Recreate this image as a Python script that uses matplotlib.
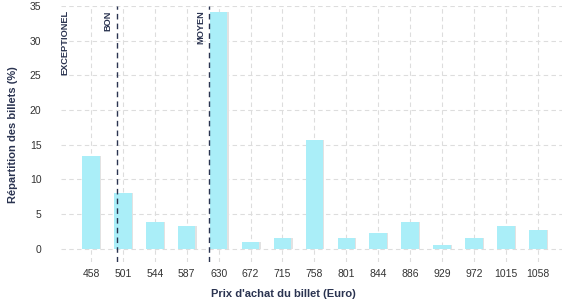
import numpy as np
import matplotlib
matplotlib.use('Agg')
import matplotlib.pyplot as plt

# données
prix = ['458', '501', '544', '587', '630', '672', '715', '758', '801', '844',
        '886', '929', '972', '1015', '1058']
repartition = [13.4, 8.1, 3.9, 3.3, 34.1, 1.0, 1.6, 15.7, 1.6, 2.2, 3.9, 0.5, 1.6, 3.3, 2.7]
seuils = ['EXCEPTIONEL', 'BON', 'MOYEN']
seuils_pos = [-0.55, 0.8, 3.71]
seuils_ligne = [False, True, True]

navy = '#2a3350'
plt.rcParams['font.family'] = ['Liberation Sans', 'DejaVu Sans']

fig = plt.figure(figsize=(5.77, 3.0), dpi=100)
ax = fig.add_axes([0.1057, 0.127, 0.8683, 0.853])

x = np.arange(len(prix))
# ombre légère à droite des barres
ax.bar(x + 0.04, repartition, width=0.55, color='#e2e2e2', zorder=2)
ax.bar(x, repartition, width=0.55, color='#aaeef8', zorder=3)

for nom, pos, ligne in zip(seuils, seuils_pos, seuils_ligne):
    if ligne:
        ax.axvline(pos, color=navy, lw=1, ls=(0, (4, 3)), zorder=4)
    ax.text(pos - 0.12, 34.4, nom, rotation=90,
            ha='right', va='top', fontsize=6.7, fontweight='bold', color=navy)

ax.set_xlim(-0.94, 14.76)
ax.set_ylim(-1.9, 35)
ax.set_xticks(x)
ax.set_xticklabels(prix)
ax.set_yticks([0, 5, 10, 15, 20, 25, 30, 35])
ax.grid(True, color='#dddddd', ls=(0, (4, 3)), lw=0.8, zorder=0)
ax.set_axisbelow(True)
for s in ax.spines.values():
    s.set_visible(False)
ax.tick_params(length=0, labelsize=7.5, colors='#333333', pad=5)
ax.tick_params(axis='y', pad=14)

fig.text(283 / 577, 1 - 294 / 300, "Prix d'achat du billet (Euro)", fontsize=8,
         fontweight='bold', color=navy, ha='center', va='center')
fig.text(13 / 577, 1 - 135 / 300, 'Répartition des billets (%)', fontsize=8,
         fontweight='bold', color=navy, ha='center', va='center', rotation=90)

fig.savefig('out.png', dpi=100)
